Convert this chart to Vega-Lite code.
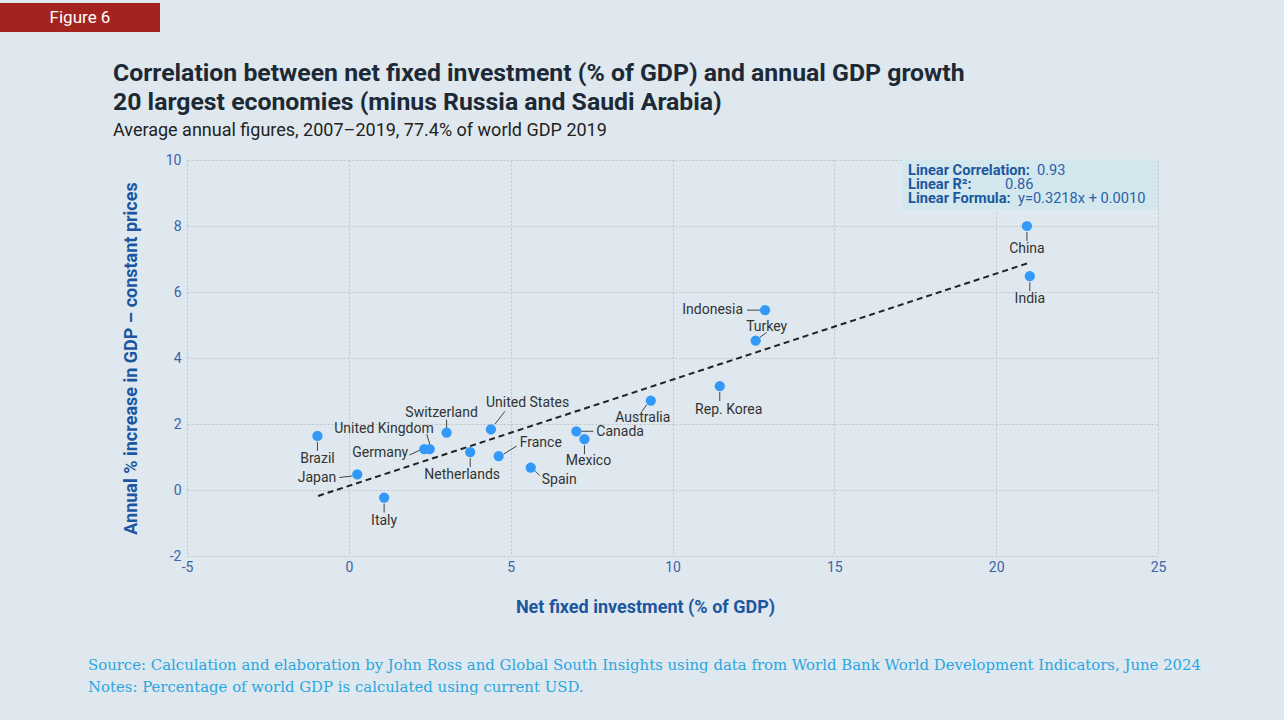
{
  "$schema": "https://vega.github.io/schema/vega-lite/v6.json",
  "autosize": "none",
  "width": 971,
  "height": 396,
  "padding": {"left": 187, "top": 160, "right": 126, "bottom": 164},
  "background": "#dfe8ee",
  "config": {
    "view": {"stroke": null},
    "axis": {
      "grid": true, "gridColor": "#bcc3c9", "gridDash": [2, 2], "gridWidth": 1,
      "domain": false, "ticks": false, "labelFlush": false,
      "labelExpr": "replace(datum.label, '−', '-')",
      "labelFont": "Roboto", "labelFontSize": 14, "labelColor": "#3a64a6",
      "titleFont": "Roboto", "titleFontSize": 18, "titleFontWeight": "bold", "titleColor": "#1b57a0"
    }
  },
  "title": {
    "text": ["Correlation between net fixed investment (% of GDP) and annual GDP growth", "20 largest economies (minus Russia and Saudi Arabia)"],
    "subtitle": "Average annual figures, 2007–2019, 77.4% of world GDP 2019",
    "anchor": "start", "frame": "group", "dx": -74, "offset": -137,
    "font": "Roboto", "fontSize": 24.8, "fontWeight": "bold", "color": "#1d2a35", "lineHeight": 29,
    "subtitleFont": "Roboto", "subtitleFontSize": 18, "subtitleColor": "#222222", "subtitlePadding": 7
  },
  "datasets": {
    "pts": [
      {"country": "China", "x": 20.95, "y": 8.0},
      {"country": "India", "x": 21.04, "y": 6.48},
      {"country": "Indonesia", "x": 12.86, "y": 5.45},
      {"country": "Turkey", "x": 12.57, "y": 4.53},
      {"country": "Rep. Korea", "x": 11.46, "y": 3.15},
      {"country": "Australia", "x": 9.33, "y": 2.71},
      {"country": "Canada", "x": 7.03, "y": 1.78},
      {"country": "Mexico", "x": 7.28, "y": 1.54},
      {"country": "Spain", "x": 5.62, "y": 0.68},
      {"country": "France", "x": 4.63, "y": 1.03},
      {"country": "United States", "x": 4.39, "y": 1.84},
      {"country": "Netherlands", "x": 3.75, "y": 1.15},
      {"country": "Switzerland", "x": 3.02, "y": 1.74},
      {"country": "United Kingdom", "x": 2.50, "y": 1.24},
      {"country": "Germany", "x": 2.33, "y": 1.24},
      {"country": "Brazil", "x": -0.97, "y": 1.64},
      {"country": "Japan", "x": 0.26, "y": 0.47},
      {"country": "Italy", "x": 1.09, "y": -0.23}
    ],
    "trend": [
      {"x": -0.95, "y": -0.18},
      {"x": 20.97, "y": 6.87}
    ]
  },
  "layer": [
    {
      "data": {"values": [{}]},
      "mark": {"type": "rect", "fill": "#a3231e"},
      "encoding": {"x": {"value": -187}, "x2": {"value": -27}, "y": {"value": -157}, "y2": {"value": -128}}
    },
    {
      "data": {"values": [{}]},
      "mark": {"type": "text", "text": "Figure 6", "font": "Roboto", "fontSize": 17, "color": "#ffffff", "align": "center", "baseline": "middle"},
      "encoding": {"x": {"value": -107}, "y": {"value": -142}}
    },
    {
      "data": {"values": [{}]},
      "mark": {"type": "rect", "fill": "#d3e7ee"},
      "encoding": {"x": {"value": 715}, "x2": {"value": 971}, "y": {"value": -1}, "y2": {"value": 50}}
    },
    {
      "data": {"values": [{}]},
      "mark": {"type": "text", "text": "Linear Correlation:", "font": "Roboto", "fontSize": 14.6, "fontWeight": "bold", "color": "#1b57a0", "align": "left", "baseline": "middle"},
      "encoding": {"x": {"value": 721}, "y": {"value": 11}}
    },
    {
      "data": {"values": [{}]},
      "mark": {"type": "text", "text": "Linear R²:", "font": "Roboto", "fontSize": 14.6, "fontWeight": "bold", "color": "#1b57a0", "align": "left", "baseline": "middle"},
      "encoding": {"x": {"value": 721}, "y": {"value": 25}}
    },
    {
      "data": {"values": [{}]},
      "mark": {"type": "text", "text": "Linear Formula:", "font": "Roboto", "fontSize": 14.6, "fontWeight": "bold", "color": "#1b57a0", "align": "left", "baseline": "middle"},
      "encoding": {"x": {"value": 721}, "y": {"value": 39}}
    },
    {
      "data": {"values": [{}]},
      "mark": {"type": "text", "text": "0.93", "font": "Roboto", "fontSize": 14.6, "color": "#2a62aa", "align": "left", "baseline": "middle"},
      "encoding": {"x": {"value": 850}, "y": {"value": 11}}
    },
    {
      "data": {"values": [{}]},
      "mark": {"type": "text", "text": "0.86", "font": "Roboto", "fontSize": 14.6, "color": "#2a62aa", "align": "left", "baseline": "middle"},
      "encoding": {"x": {"value": 818}, "y": {"value": 25}}
    },
    {
      "data": {"values": [{}]},
      "mark": {"type": "text", "text": "y=0.3218x + 0.0010", "font": "Roboto", "fontSize": 14.6, "color": "#2a62aa", "align": "left", "baseline": "middle"},
      "encoding": {"x": {"value": 831}, "y": {"value": 39}}
    },
    {
      "data": {"values": [{}]},
      "mark": {"type": "text", "text": "Source: Calculation and elaboration by John Ross and Global South Insights using data from World Bank World Development Indicators, June 2024", "font": "DejaVu Serif", "fontSize": 14.9, "color": "#2aa6e0", "align": "left", "baseline": "middle"},
      "encoding": {"x": {"value": -99}, "y": {"value": 506}}
    },
    {
      "data": {"values": [{}]},
      "mark": {"type": "text", "text": "Notes: Percentage of world GDP is calculated using current USD.", "font": "DejaVu Serif", "fontSize": 14.9, "color": "#2aa6e0", "align": "left", "baseline": "middle"},
      "encoding": {"x": {"value": -99}, "y": {"value": 528}}
    },
    {
      "data": {"name": "trend"},
      "mark": {"type": "line", "color": "#222222", "strokeWidth": 2, "strokeDash": [6, 4]},
      "encoding": {"x": {"field": "x", "type": "quantitative"}, "y": {"field": "y", "type": "quantitative"}}
    },
    {
      "data": {"name": "pts"},
      "transform": [{"filter": {"field": "country", "oneOf": ["China", "India", "Brazil", "Italy", "Rep. Korea", "Mexico", "Netherlands"]}}],
      "mark": {"type": "rule", "color": "#444444", "strokeWidth": 1, "yOffset": 6, "y2Offset": 15},
      "encoding": {"x": {"field": "x", "type": "quantitative"}, "y": {"field": "y", "type": "quantitative"}, "x2": {"field": "x"}, "y2": {"field": "y"}}
    },
    {
      "data": {"name": "pts"},
      "transform": [{"filter": {"field": "country", "oneOf": ["Japan"]}}],
      "mark": {"type": "rule", "color": "#444444", "strokeWidth": 1, "xOffset": -5, "yOffset": 1.5, "x2Offset": -18, "y2Offset": 3},
      "encoding": {"x": {"field": "x", "type": "quantitative"}, "y": {"field": "y", "type": "quantitative"}, "x2": {"field": "x"}, "y2": {"field": "y"}}
    },
    {
      "data": {"name": "pts"},
      "transform": [{"filter": {"field": "country", "oneOf": ["Germany"]}}],
      "mark": {"type": "rule", "color": "#444444", "strokeWidth": 1, "xOffset": -4, "yOffset": 1, "x2Offset": -15, "y2Offset": 6},
      "encoding": {"x": {"field": "x", "type": "quantitative"}, "y": {"field": "y", "type": "quantitative"}, "x2": {"field": "x"}, "y2": {"field": "y"}}
    },
    {
      "data": {"name": "pts"},
      "transform": [{"filter": {"field": "country", "oneOf": ["United Kingdom"]}}],
      "mark": {"type": "rule", "color": "#444444", "strokeWidth": 1, "xOffset": 0, "yOffset": -5, "x2Offset": -3, "y2Offset": -15},
      "encoding": {"x": {"field": "x", "type": "quantitative"}, "y": {"field": "y", "type": "quantitative"}, "x2": {"field": "x"}, "y2": {"field": "y"}}
    },
    {
      "data": {"name": "pts"},
      "transform": [{"filter": {"field": "country", "oneOf": ["Switzerland"]}}],
      "mark": {"type": "rule", "color": "#444444", "strokeWidth": 1, "yOffset": -4, "y2Offset": -13},
      "encoding": {"x": {"field": "x", "type": "quantitative"}, "y": {"field": "y", "type": "quantitative"}, "x2": {"field": "x"}, "y2": {"field": "y"}}
    },
    {
      "data": {"name": "pts"},
      "transform": [{"filter": {"field": "country", "oneOf": ["United States"]}}],
      "mark": {"type": "rule", "color": "#444444", "strokeWidth": 1, "xOffset": 4, "yOffset": -5, "x2Offset": 14, "y2Offset": -18},
      "encoding": {"x": {"field": "x", "type": "quantitative"}, "y": {"field": "y", "type": "quantitative"}, "x2": {"field": "x"}, "y2": {"field": "y"}}
    },
    {
      "data": {"name": "pts"},
      "transform": [{"filter": {"field": "country", "oneOf": ["France"]}}],
      "mark": {"type": "rule", "color": "#444444", "strokeWidth": 1, "xOffset": 5, "yOffset": -2, "x2Offset": 18, "y2Offset": -10},
      "encoding": {"x": {"field": "x", "type": "quantitative"}, "y": {"field": "y", "type": "quantitative"}, "x2": {"field": "x"}, "y2": {"field": "y"}}
    },
    {
      "data": {"name": "pts"},
      "transform": [{"filter": {"field": "country", "oneOf": ["Spain"]}}],
      "mark": {"type": "rule", "color": "#444444", "strokeWidth": 1, "xOffset": 4, "yOffset": 3, "x2Offset": 9, "y2Offset": 8},
      "encoding": {"x": {"field": "x", "type": "quantitative"}, "y": {"field": "y", "type": "quantitative"}, "x2": {"field": "x"}, "y2": {"field": "y"}}
    },
    {
      "data": {"name": "pts"},
      "transform": [{"filter": {"field": "country", "oneOf": ["Canada"]}}],
      "mark": {"type": "rule", "color": "#444444", "strokeWidth": 1, "xOffset": 5, "x2Offset": 17},
      "encoding": {"x": {"field": "x", "type": "quantitative"}, "y": {"field": "y", "type": "quantitative"}, "x2": {"field": "x"}, "y2": {"field": "y"}}
    },
    {
      "data": {"name": "pts"},
      "transform": [{"filter": {"field": "country", "oneOf": ["Australia"]}}],
      "mark": {"type": "rule", "color": "#444444", "strokeWidth": 1, "xOffset": -4, "yOffset": 4, "x2Offset": -9, "y2Offset": 11},
      "encoding": {"x": {"field": "x", "type": "quantitative"}, "y": {"field": "y", "type": "quantitative"}, "x2": {"field": "x"}, "y2": {"field": "y"}}
    },
    {
      "data": {"name": "pts"},
      "transform": [{"filter": {"field": "country", "oneOf": ["Indonesia"]}}],
      "mark": {"type": "rule", "color": "#444444", "strokeWidth": 1, "xOffset": -4, "x2Offset": -18},
      "encoding": {"x": {"field": "x", "type": "quantitative"}, "y": {"field": "y", "type": "quantitative"}, "x2": {"field": "x"}, "y2": {"field": "y"}}
    },
    {
      "data": {"name": "pts"},
      "transform": [{"filter": {"field": "country", "oneOf": ["Turkey"]}}],
      "mark": {"type": "rule", "color": "#444444", "strokeWidth": 1, "xOffset": 4, "yOffset": -3, "x2Offset": 11, "y2Offset": -8},
      "encoding": {"x": {"field": "x", "type": "quantitative"}, "y": {"field": "y", "type": "quantitative"}, "x2": {"field": "x"}, "y2": {"field": "y"}}
    },
    {
      "data": {"name": "pts"},
      "mark": {"type": "circle", "color": "#3399f8", "opacity": 1, "size": 105},
      "encoding": {
        "x": {"field": "x", "type": "quantitative", "title": "Net fixed investment (% of GDP)",
          "scale": {"domain": [-5, 25], "nice": false, "zero": false},
          "axis": {"values": [-5, 0, 5, 10, 15, 20, 25], "labelPadding": 4, "titleX": 458, "titleY": 51, "titleAlign": "center", "titleBaseline": "middle", "titleAnchor": null}},
        "y": {"field": "y", "type": "quantitative", "title": "Annual % increase in GDP – constant prices",
          "scale": {"domain": [-2, 10], "nice": false, "zero": false},
          "axis": {"values": [-2, 0, 2, 4, 6, 8, 10], "labelPadding": 6, "titleX": -56, "titleY": 198, "titleAlign": "center", "titleBaseline": "middle", "titleAngle": -90, "titleAnchor": null}}
      }
    },
    {
      "data": {"name": "pts"},
      "transform": [{"filter": {"field": "country", "oneOf": ["China", "India", "Brazil", "Italy"]}}],
      "mark": {"type": "text", "font": "Roboto", "fontSize": 14, "color": "#333333", "align": "center", "baseline": "middle", "dy": 23},
      "encoding": {"x": {"field": "x", "type": "quantitative"}, "y": {"field": "y", "type": "quantitative"}, "text": {"field": "country"}}
    },
    {
      "data": {"name": "pts"},
      "transform": [{"filter": {"field": "country", "oneOf": ["Mexico"]}}],
      "mark": {"type": "text", "font": "Roboto", "fontSize": 14, "color": "#333333", "align": "center", "baseline": "middle", "dx": 4, "dy": 22},
      "encoding": {"x": {"field": "x", "type": "quantitative"}, "y": {"field": "y", "type": "quantitative"}, "text": {"field": "country"}}
    },
    {
      "data": {"name": "pts"},
      "transform": [{"filter": {"field": "country", "oneOf": ["Rep. Korea"]}}],
      "mark": {"type": "text", "font": "Roboto", "fontSize": 14, "color": "#333333", "align": "center", "baseline": "middle", "dx": 9, "dy": 24},
      "encoding": {"x": {"field": "x", "type": "quantitative"}, "y": {"field": "y", "type": "quantitative"}, "text": {"field": "country"}}
    },
    {
      "data": {"name": "pts"},
      "transform": [{"filter": {"field": "country", "oneOf": ["Netherlands"]}}],
      "mark": {"type": "text", "font": "Roboto", "fontSize": 14, "color": "#333333", "align": "center", "baseline": "middle", "dx": -8, "dy": 23},
      "encoding": {"x": {"field": "x", "type": "quantitative"}, "y": {"field": "y", "type": "quantitative"}, "text": {"field": "country"}}
    },
    {
      "data": {"name": "pts"},
      "transform": [{"filter": {"field": "country", "oneOf": ["Japan"]}}],
      "mark": {"type": "text", "font": "Roboto", "fontSize": 14, "color": "#333333", "align": "right", "baseline": "middle", "dx": -21, "dy": 4},
      "encoding": {"x": {"field": "x", "type": "quantitative"}, "y": {"field": "y", "type": "quantitative"}, "text": {"field": "country"}}
    },
    {
      "data": {"name": "pts"},
      "transform": [{"filter": {"field": "country", "oneOf": ["Germany"]}}],
      "mark": {"type": "text", "font": "Roboto", "fontSize": 14, "color": "#333333", "align": "right", "baseline": "middle", "dx": -16, "dy": 4},
      "encoding": {"x": {"field": "x", "type": "quantitative"}, "y": {"field": "y", "type": "quantitative"}, "text": {"field": "country"}}
    },
    {
      "data": {"name": "pts"},
      "transform": [{"filter": {"field": "country", "oneOf": ["United Kingdom"]}}],
      "mark": {"type": "text", "font": "Roboto", "fontSize": 14, "color": "#333333", "align": "right", "baseline": "middle", "dx": 4, "dy": -20},
      "encoding": {"x": {"field": "x", "type": "quantitative"}, "y": {"field": "y", "type": "quantitative"}, "text": {"field": "country"}}
    },
    {
      "data": {"name": "pts"},
      "transform": [{"filter": {"field": "country", "oneOf": ["Switzerland"]}}],
      "mark": {"type": "text", "font": "Roboto", "fontSize": 14, "color": "#333333", "align": "center", "baseline": "middle", "dx": -5, "dy": -20},
      "encoding": {"x": {"field": "x", "type": "quantitative"}, "y": {"field": "y", "type": "quantitative"}, "text": {"field": "country"}}
    },
    {
      "data": {"name": "pts"},
      "transform": [{"filter": {"field": "country", "oneOf": ["United States"]}}],
      "mark": {"type": "text", "font": "Roboto", "fontSize": 14, "color": "#333333", "align": "left", "baseline": "middle", "dx": -5, "dy": -26},
      "encoding": {"x": {"field": "x", "type": "quantitative"}, "y": {"field": "y", "type": "quantitative"}, "text": {"field": "country"}}
    },
    {
      "data": {"name": "pts"},
      "transform": [{"filter": {"field": "country", "oneOf": ["France"]}}],
      "mark": {"type": "text", "font": "Roboto", "fontSize": 14, "color": "#333333", "align": "left", "baseline": "middle", "dx": 21, "dy": -13},
      "encoding": {"x": {"field": "x", "type": "quantitative"}, "y": {"field": "y", "type": "quantitative"}, "text": {"field": "country"}}
    },
    {
      "data": {"name": "pts"},
      "transform": [{"filter": {"field": "country", "oneOf": ["Spain"]}}],
      "mark": {"type": "text", "font": "Roboto", "fontSize": 14, "color": "#333333", "align": "left", "baseline": "middle", "dx": 11, "dy": 12},
      "encoding": {"x": {"field": "x", "type": "quantitative"}, "y": {"field": "y", "type": "quantitative"}, "text": {"field": "country"}}
    },
    {
      "data": {"name": "pts"},
      "transform": [{"filter": {"field": "country", "oneOf": ["Canada"]}}],
      "mark": {"type": "text", "font": "Roboto", "fontSize": 14, "color": "#333333", "align": "left", "baseline": "middle", "dx": 20, "dy": 1},
      "encoding": {"x": {"field": "x", "type": "quantitative"}, "y": {"field": "y", "type": "quantitative"}, "text": {"field": "country"}}
    },
    {
      "data": {"name": "pts"},
      "transform": [{"filter": {"field": "country", "oneOf": ["Australia"]}}],
      "mark": {"type": "text", "font": "Roboto", "fontSize": 14, "color": "#333333", "align": "center", "baseline": "middle", "dx": -8, "dy": 17},
      "encoding": {"x": {"field": "x", "type": "quantitative"}, "y": {"field": "y", "type": "quantitative"}, "text": {"field": "country"}}
    },
    {
      "data": {"name": "pts"},
      "transform": [{"filter": {"field": "country", "oneOf": ["Indonesia"]}}],
      "mark": {"type": "text", "font": "Roboto", "fontSize": 14, "color": "#333333", "align": "right", "baseline": "middle", "dx": -22, "dy": 0},
      "encoding": {"x": {"field": "x", "type": "quantitative"}, "y": {"field": "y", "type": "quantitative"}, "text": {"field": "country"}}
    },
    {
      "data": {"name": "pts"},
      "transform": [{"filter": {"field": "country", "oneOf": ["Turkey"]}}],
      "mark": {"type": "text", "font": "Roboto", "fontSize": 14, "color": "#333333", "align": "center", "baseline": "middle", "dx": 11, "dy": -14},
      "encoding": {"x": {"field": "x", "type": "quantitative"}, "y": {"field": "y", "type": "quantitative"}, "text": {"field": "country"}}
    }
  ]
}
